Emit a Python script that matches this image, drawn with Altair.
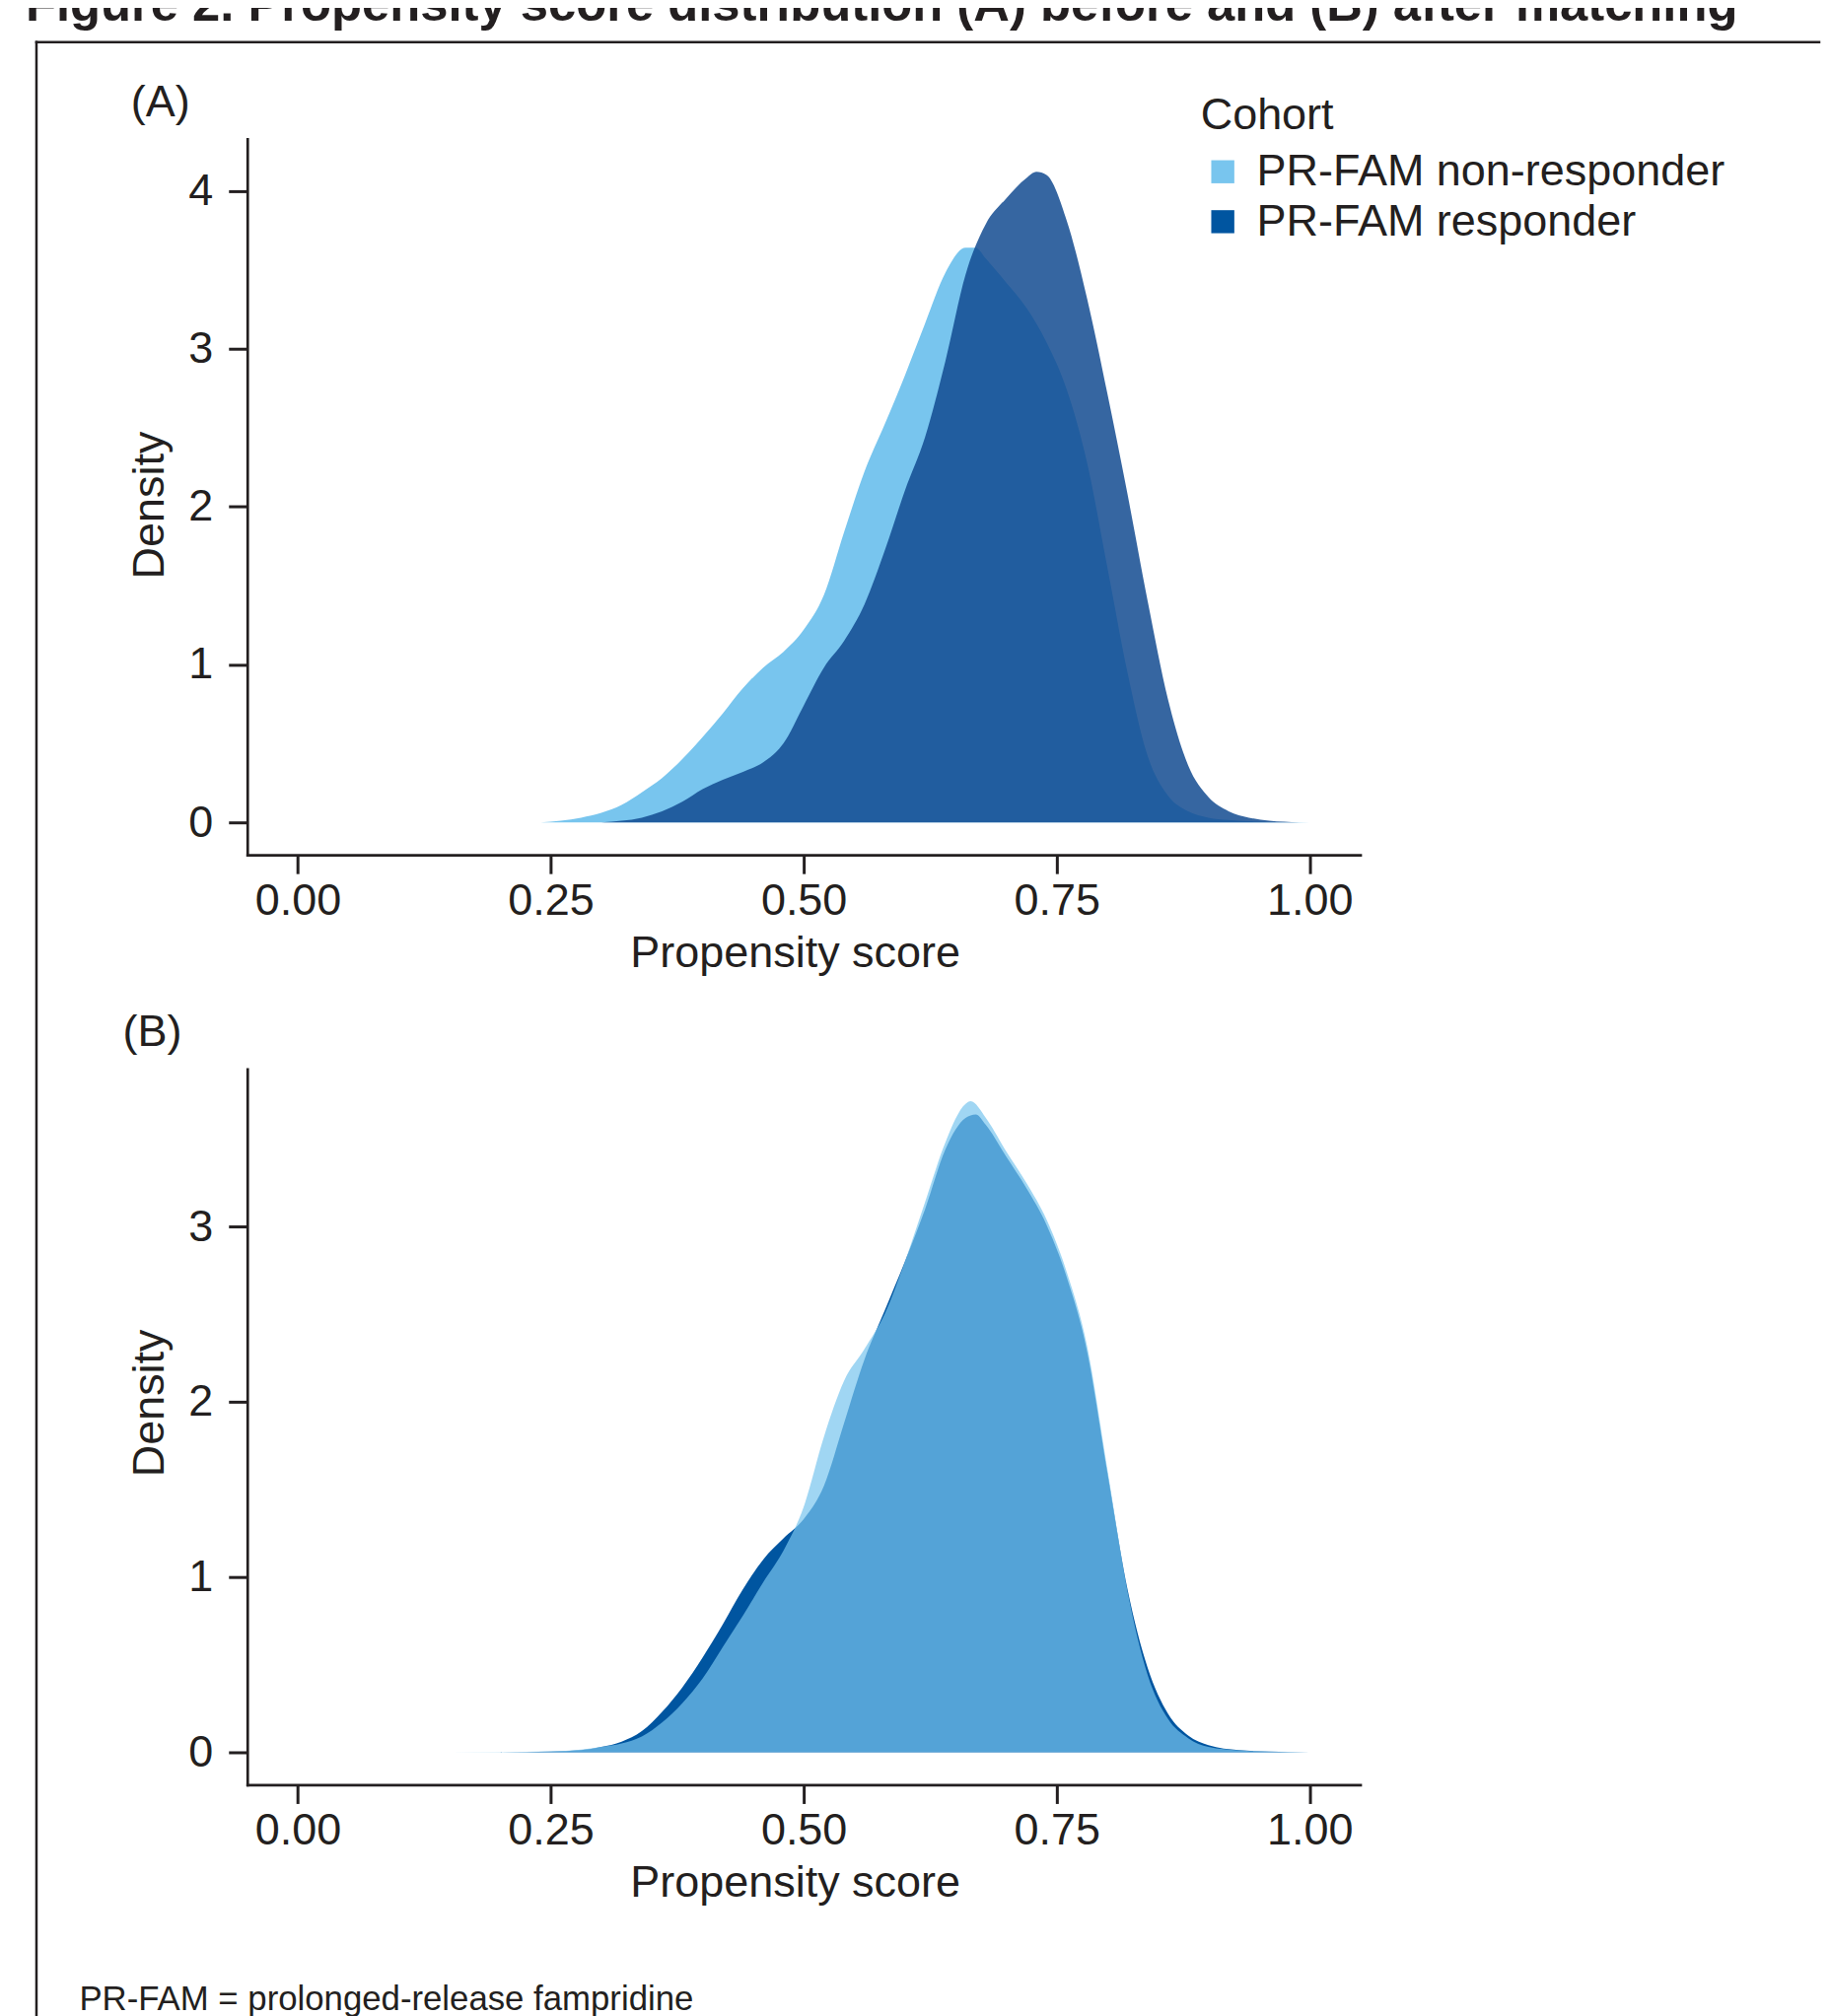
import altair as alt
import pandas as pd

FONT = "Liberation Sans"
INK = "#231F20"

COHORTS = ["PR-FAM non-responder", "PR-FAM responder"]
COLORS = ["#78C5EE", "#0055A0"]

# Panel A (before matching)
NR_A_x = [0.24, 0.26, 0.28, 0.30, 0.32, 0.34, 0.36, 0.38, 0.40, 0.42, 0.44, 0.46, 0.48, 0.50,
          0.52, 0.54, 0.56, 0.58, 0.60, 0.62, 0.64, 0.66, 0.67, 0.68, 0.70, 0.72, 0.74, 0.76,
          0.78, 0.80, 0.82, 0.84, 0.86, 0.88, 0.90, 0.92, 0.94, 0.96, 0.98, 1.00]
NR_A_y = [0.0, 0.01, 0.03, 0.06, 0.11, 0.19, 0.28, 0.40, 0.54, 0.69, 0.85, 0.98, 1.08, 1.22,
          1.44, 1.84, 2.22, 2.52, 2.83, 3.16, 3.48, 3.64, 3.64, 3.57, 3.42, 3.26, 3.04, 2.74,
          2.28, 1.62, 0.95, 0.42, 0.17, 0.07, 0.03, 0.015, 0.007, 0.003, 0.001, 0.0]

R_A_x = [0.30, 0.32, 0.34, 0.36, 0.38, 0.40, 0.42, 0.44, 0.46, 0.48, 0.50, 0.52, 0.54, 0.56,
         0.58, 0.60, 0.62, 0.64, 0.66, 0.68, 0.70, 0.72, 0.73, 0.74, 0.76, 0.78, 0.80, 0.82,
         0.84, 0.86, 0.88, 0.90, 0.92, 0.94, 0.96, 0.99]
R_A_y = [0.0, 0.01, 0.03, 0.07, 0.13, 0.21, 0.27, 0.32, 0.38, 0.50, 0.74, 0.98, 1.15, 1.38,
         1.72, 2.10, 2.44, 2.92, 3.47, 3.79, 3.95, 4.08, 4.12, 4.10, 3.81, 3.32, 2.72, 2.08,
         1.40, 0.78, 0.36, 0.16, 0.07, 0.03, 0.01, 0.0]

# Panel B (after matching)
NR_B_x = [0.00, 0.10, 0.20, 0.25, 0.28, 0.30, 0.32, 0.34, 0.36, 0.38, 0.40, 0.42, 0.44, 0.46,
          0.48, 0.50, 0.52, 0.54, 0.56, 0.58, 0.60, 0.62, 0.64, 0.66, 0.665, 0.68, 0.70, 0.72,
          0.74, 0.76, 0.78, 0.80, 0.82, 0.84, 0.86, 0.88, 0.90, 0.93, 0.96, 1.00]
NR_B_y = [0.0, 0.0, 0.001, 0.005, 0.015, 0.03, 0.05, 0.09, 0.17, 0.28, 0.42, 0.60, 0.78, 0.97,
          1.15, 1.40, 1.80, 2.12, 2.30, 2.50, 2.80, 3.14, 3.48, 3.70, 3.715, 3.62, 3.43, 3.25,
          3.04, 2.74, 2.32, 1.62, 0.92, 0.44, 0.19, 0.08, 0.03, 0.01, 0.003, 0.0]

R_B_x = [0.20, 0.25, 0.28, 0.30, 0.32, 0.34, 0.36, 0.38, 0.40, 0.42, 0.44, 0.46, 0.48, 0.50,
         0.52, 0.54, 0.56, 0.58, 0.60, 0.62, 0.64, 0.66, 0.67, 0.68, 0.70, 0.72, 0.74, 0.76,
         0.78, 0.80, 0.82, 0.84, 0.86, 0.88, 0.90, 0.93, 0.96, 1.00]
R_B_y = [0.0, 0.004, 0.012, 0.03, 0.06, 0.12, 0.23, 0.37, 0.54, 0.73, 0.93, 1.10, 1.22, 1.33,
         1.52, 1.88, 2.24, 2.52, 2.80, 3.10, 3.44, 3.62, 3.64, 3.58, 3.40, 3.22, 3.01, 2.71,
         2.29, 1.60, 0.93, 0.48, 0.22, 0.095, 0.04, 0.012, 0.004, 0.0]

X_TICKS = [0.0, 0.25, 0.5, 0.75, 1.0]
Y_TICKS_A = [0, 1, 2, 3, 4]
Y_TICKS_B = [0, 1, 2, 3]

TITLE = "Figure 2. Propensity score distribution (A) before and (B) after matching"
FOOTNOTE = "PR-FAM = prolonged-release fampridine"


def frame(xs, ys, cohort):
    return pd.DataFrame({"score": xs, "density": ys, "Cohort": cohort})


W, H = 1130, 727
FS = 45

color_scale = alt.Scale(domain=COHORTS, range=COLORS)
legend = alt.Legend(
    orient="none", legendX=968, legendY=-46.0, title="Cohort",
    symbolType="square", symbolSize=548, symbolStrokeWidth=0, symbolOpacity=1,
    symbolOffset=0, labelOffset=12, titlePadding=11.8, rowPadding=4.7,
    padding=0, labelLimit=900, titleLimit=900,
)

x_enc = alt.X(
    "score:Q",
    scale=alt.Scale(domain=[-0.05, 1.05], nice=False, zero=False),
    axis=alt.Axis(values=X_TICKS, format=".2f", title="Propensity score",
                  titleX=556, titleY=113, titleBaseline="alphabetic",
                  titleAlign="center", labelPadding=5.5),
)


def y_enc(domain, ticks, title_y):
    return alt.Y(
        "density:Q",
        scale=alt.Scale(domain=domain, nice=False, zero=False),
        axis=alt.Axis(values=ticks, format="d", title="Density",
                      titleX=-85, titleY=title_y, titleBaseline="alphabetic",
                      titleAlign="center", titleAngle=270, labelPadding=16),
    )


def label(text, x, y, size=FS, weight="normal"):
    return alt.Chart(pd.DataFrame({"t": [text]})).mark_text(
        align="left", baseline="alphabetic", font=FONT, fontSize=size,
        fontWeight=weight, color=INK,
    ).encode(text="t:N", x=alt.value(x), y=alt.value(y))


one = pd.DataFrame({"k": [0]})
frame_top = alt.Chart(one).mark_rule(color=INK, strokeWidth=2.5, strokeCap="square").encode(
    x=alt.value(-214), x2=alt.value(1596), y=alt.value(-98.2))
frame_left = alt.Chart(one).mark_rule(color=INK, strokeWidth=2.5, strokeCap="square").encode(
    x=alt.value(-214), y=alt.value(-98.2), y2=alt.value(1906))

yA = y_enc([-0.206, 4.328], Y_TICKS_A, 371.5)
nrA = alt.Chart(frame(NR_A_x, NR_A_y, COHORTS[0])).mark_area(interpolate="monotone").encode(
    x=x_enc, y=yA, y2=alt.datum(0),
    color=alt.Color("Cohort:N", scale=color_scale, legend=legend))
rA = alt.Chart(frame(R_A_x, R_A_y, COHORTS[1])).mark_area(
    interpolate="monotone", color="#114A90", opacity=0.844).encode(
    x=alt.X("score:Q"), y=alt.Y("density:Q"), y2=alt.datum(0))

panelA = alt.layer(
    nrA, rA, frame_top, frame_left,
    label(TITLE, -225, -120.1, size=50.8, weight="bold"),
    label("(A)", -118, -23.4),
).properties(width=W, height=H)

yB = y_enc([-0.186, 3.90], Y_TICKS_B, 339)
rB = alt.Chart(frame(R_B_x, R_B_y, COHORTS[1])).mark_area(
    interpolate="monotone", color=COLORS[1]).encode(
    x=x_enc, y=yB, y2=alt.datum(0))
nrB = alt.Chart(frame(NR_B_x, NR_B_y, COHORTS[0])).mark_area(
    interpolate="monotone", color=COLORS[0], opacity=0.7).encode(
    x=alt.X("score:Q"), y=alt.Y("density:Q"), y2=alt.datum(0))

panelB = alt.layer(
    rB, nrB,
    label("(B)", -126.3, -23.3),
    label(FOOTNOTE, -170.5, 955.5, size=34.8),
).properties(width=W, height=H)

chart = alt.vconcat(panelA, panelB, spacing=217.3, bounds="flush").properties(
    padding={"top": -30, "left": 17, "right": 0, "bottom": 0},
    background="white",
).configure_view(stroke="transparent").configure_axis(
    labelFont=FONT, titleFont=FONT, labelFontSize=FS, titleFontSize=FS,
    labelColor=INK, titleColor=INK, titleFontWeight="normal",
    domainColor=INK, tickColor=INK, domainWidth=2.7, tickWidth=3, tickSize=19,
    domainCap="square", grid=False, labelFlush=False,
).configure_legend(
    labelFont=FONT, titleFont=FONT, labelFontSize=FS, titleFontSize=FS,
    labelColor=INK, titleColor=INK, titleFontWeight="normal",
)

chart.save("out.html", embed_options={"renderer": "svg", "actions": False})
